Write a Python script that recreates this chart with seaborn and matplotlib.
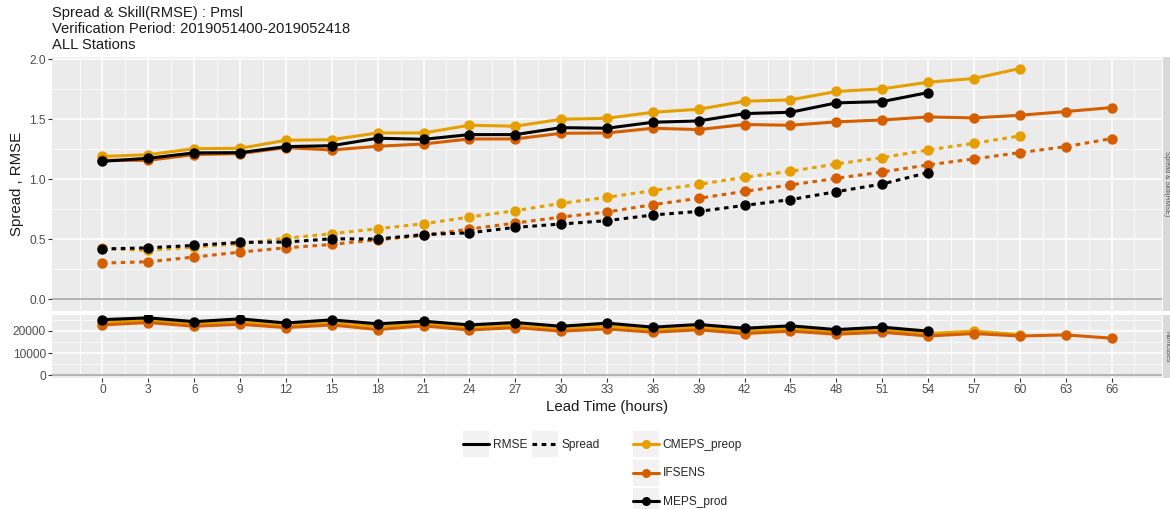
'''
Spread & Skill (RMSE) for Pmsl per lead time, with the number of cases underneath
'''
import pandas as pd
import matplotlib
matplotlib.use("Agg")
import matplotlib.pyplot as plt
import seaborn as sns
from matplotlib.ticker import MultipleLocator, FixedLocator, FormatStrFormatter
from matplotlib.patches import Rectangle
from matplotlib.lines import Line2D
from matplotlib.legend_handler import HandlerLine2D

# lead times (hours) per model
lead_all = list(range(0, 67, 3))
lead_cmeps = list(range(0, 61, 3))
lead_meps = list(range(0, 55, 3))

models = ["CMEPS_preop", "IFSENS", "MEPS_prod"]
colors = {"CMEPS_preop": "#E69F00", "IFSENS": "#D55E00", "MEPS_prod": "#000000"}

# RMSE (solid)
rmse_cmeps = [1.19, 1.205, 1.255, 1.258, 1.325, 1.33, 1.386, 1.386, 1.45, 1.442, 1.50,
              1.508, 1.558, 1.583, 1.65, 1.661, 1.731, 1.753, 1.808, 1.839, 1.922]
rmse_ifsens = [1.158, 1.158, 1.206, 1.214, 1.264, 1.244, 1.275, 1.294, 1.336, 1.336, 1.383,
               1.386, 1.425, 1.414, 1.456, 1.45, 1.478, 1.494, 1.519, 1.511, 1.533, 1.564, 1.597]
rmse_meps = [1.15, 1.175, 1.22, 1.222, 1.272, 1.28, 1.342, 1.333, 1.372, 1.372, 1.43,
             1.425, 1.475, 1.486, 1.547, 1.558, 1.636, 1.647, 1.722]

# Spread (dotted)
spread_cmeps = [0.425, 0.408, 0.436, 0.464, 0.51, 0.547, 0.589, 0.63, 0.686, 0.739, 0.80,
                0.85, 0.906, 0.958, 1.017, 1.067, 1.128, 1.181, 1.244, 1.30, 1.361]
spread_ifsens = [0.303, 0.314, 0.353, 0.394, 0.43, 0.458, 0.497, 0.533, 0.586, 0.636, 0.686,
                 0.728, 0.789, 0.842, 0.90, 0.953, 1.008, 1.061, 1.12, 1.17, 1.222, 1.272, 1.339]
spread_meps = [0.42, 0.43, 0.45, 0.475, 0.478, 0.505, 0.503, 0.54, 0.555, 0.60, 0.628,
               0.656, 0.703, 0.733, 0.783, 0.831, 0.897, 0.961, 1.056]

# number of cases
cases_cmeps = [24000, 24900, 23200, 24300, 22600, 23900, 22000, 23400, 21600, 22700, 21000,
               22300, 20600, 21700, 20000, 21100, 19500, 20500, 18800, 19900, 18300]
cases_ifsens = [22700, 23800, 22100, 23000, 21500, 22700, 20600, 22300, 20400, 21500, 19900,
                20900, 19400, 20500, 18800, 19900, 18500, 19400, 17700, 18800, 17700, 18200, 16700]
cases_meps = [25100, 25900, 24200, 25450, 23600, 25000, 23200, 24400, 22700, 23800, 22100,
              23500, 21700, 22900, 21200, 22300, 20600, 21700, 19900]

title_lines = ["Spread & Skill(RMSE) : Pmsl",
               "Verification Period: 2019051400-2019052418",
               "ALL Stations"]


def long_frame(pairs, measure):
    frames = []
    for model, lead, vals in pairs:
        frames.append(pd.DataFrame({"lead": lead, "value": vals,
                                    "model": model, "measure": measure}))
    return pd.concat(frames, ignore_index=True)


class KeyHandler(HandlerLine2D):
    # ggplot-like legend key: grey box with the line centred in it
    def create_artists(self, legend, orig_handle, xdescent, ydescent, width, height,
                       fontsize, trans):
        bg = Rectangle((-xdescent, -ydescent), width, height, facecolor="#F2F2F2",
                       edgecolor="none", transform=trans)
        arts = super().create_artists(legend, orig_handle, xdescent, ydescent, width,
                                      height - ydescent, fontsize, trans)
        return [bg] + list(arts)


skill = pd.concat([
    long_frame([("CMEPS_preop", lead_cmeps, rmse_cmeps), ("IFSENS", lead_all, rmse_ifsens),
                ("MEPS_prod", lead_meps, rmse_meps)], "RMSE"),
    long_frame([("CMEPS_preop", lead_cmeps, spread_cmeps), ("IFSENS", lead_all, spread_ifsens),
                ("MEPS_prod", lead_meps, spread_meps)], "Spread"),
], ignore_index=True)
cases = long_frame([("CMEPS_preop", lead_cmeps, cases_cmeps), ("IFSENS", lead_all, cases_ifsens),
                    ("MEPS_prod", lead_meps, cases_meps)], "Numcases")

sns.set_style("darkgrid", {"axes.facecolor": "#EBEBEB", "grid.color": "white"})
plt.rcParams["font.family"] = ["Liberation Sans", "DejaVu Sans"]

W, H = 1170, 509
fig = plt.figure(figsize=(W / 100, H / 100), dpi=100)
left, right = 52, 1162
ax_top = fig.add_axes([left / W, 1 - 311 / H, (right - left) / W, 254 / H])
ax_bot = fig.add_axes([left / W, 1 - 378 / H, (right - left) / W, 63 / H], sharex=ax_top)

line_kw = dict(x="lead", y="value", hue="model", hue_order=models, palette=colors,
               linewidth=2.2, markersize=7.5, markeredgewidth=0, legend=False)
sns.lineplot(data=skill, style="measure", style_order=["RMSE", "Spread"],
             dashes={"RMSE": "", "Spread": (1.5, 1.5)},
             markers={"RMSE": "o", "Spread": "o"}, ax=ax_top, **line_kw)
sns.lineplot(data=cases, marker="o", ax=ax_bot, **line_kw)

tick_col = "#4D4D4D"
for ax in (ax_top, ax_bot):
    ax.axhline(0, color="#A0A0A0", lw=1.1, zorder=1.5)
    ax.set_xlim(-3.3, 69.3)
    ax.xaxis.set_major_locator(FixedLocator(lead_all))
    ax.xaxis.set_minor_locator(FixedLocator([t - 1.5 for t in lead_all] + [lead_all[-1] + 1.5]))
    ax.grid(which="major", color="white", lw=1.1)
    ax.grid(which="minor", color="white", lw=0.55)
    for s in ax.spines.values():
        s.set_visible(False)
    ax.tick_params(which="major", direction="out", length=3, width=0.8, color="#333333",
                   labelsize=8.6, labelcolor=tick_col, pad=1.5, left=True, bottom=True)
    ax.tick_params(which="minor", length=0)

ax_top.set_ylim(-0.096, 2.018)
ax_top.yaxis.set_major_locator(MultipleLocator(0.5))
ax_top.yaxis.set_minor_locator(MultipleLocator(0.25))
ax_top.yaxis.set_major_formatter(FormatStrFormatter("%.1f"))
ax_top.tick_params(axis="x", which="major", length=0, labelbottom=False)
ax_top.set_xlabel("")
ax_top.set_ylabel("Spread , RMSE", fontsize=10.8, color="#1A1A1A", labelpad=4)

ax_bot.set_ylim(-1295, 27195)
ax_bot.yaxis.set_major_locator(MultipleLocator(10000))
ax_bot.yaxis.set_minor_locator(MultipleLocator(5000))
ax_bot.yaxis.set_major_formatter(FormatStrFormatter("%d"))
ax_bot.set_ylabel("")
ax_bot.set_xlabel("Lead Time (hours)", fontsize=10.8, color="#1A1A1A", labelpad=3)

# facet strips on the right (only a sliver is visible at the figure edge)
for (top_px, bot_px, label) in [(57, 311, "Spread & Skill(RMSE)"), (315, 378, "Numcases")]:
    strip = fig.add_axes([1163 / W, 1 - bot_px / H, 7 / W, (bot_px - top_px) / H])
    strip.set_facecolor("#D9D9D9")
    strip.set_xticks([])
    strip.set_yticks([])
    for s in strip.spines.values():
        s.set_visible(False)
    strip.grid(False)
    strip.text(0.55, 0.5, label, rotation=-90, ha="center", va="center",
               fontsize=4.8, color="#555555", transform=strip.transAxes)

fig.text(left / W, 1 - 6 / H, "\n".join(title_lines), ha="left", va="top",
         fontsize=10.6, color="#1A1A1A", linespacing=1.2)

# legends with grey key boxes
lt_handles = [Line2D([], [], color="black", lw=2.2),
              Line2D([], [], color="black", lw=2.2, dashes=(1.5, 1.5))]
col_handles = [Line2D([], [], color=colors[m], lw=2.2, marker="o",
                      markersize=6.5, markeredgewidth=0) for m in models]
leg_kw = dict(loc="upper left", frameon=False, handlelength=2.2, handleheight=3.0,
              handletextpad=0.3, borderpad=0, borderaxespad=0, fontsize=8.6,
              handler_map={Line2D: KeyHandler()}, numpoints=1)
fig.legend(lt_handles, ["RMSE", "Spread"], ncol=2, columnspacing=0.4,
           bbox_to_anchor=(463 / W, 1 - 431 / H), **leg_kw)
fig.legend(col_handles, models, labelspacing=0.2,
           bbox_to_anchor=(633 / W, 1 - 431 / H), **leg_kw)

fig.savefig("out.png", dpi=100, facecolor="white")
